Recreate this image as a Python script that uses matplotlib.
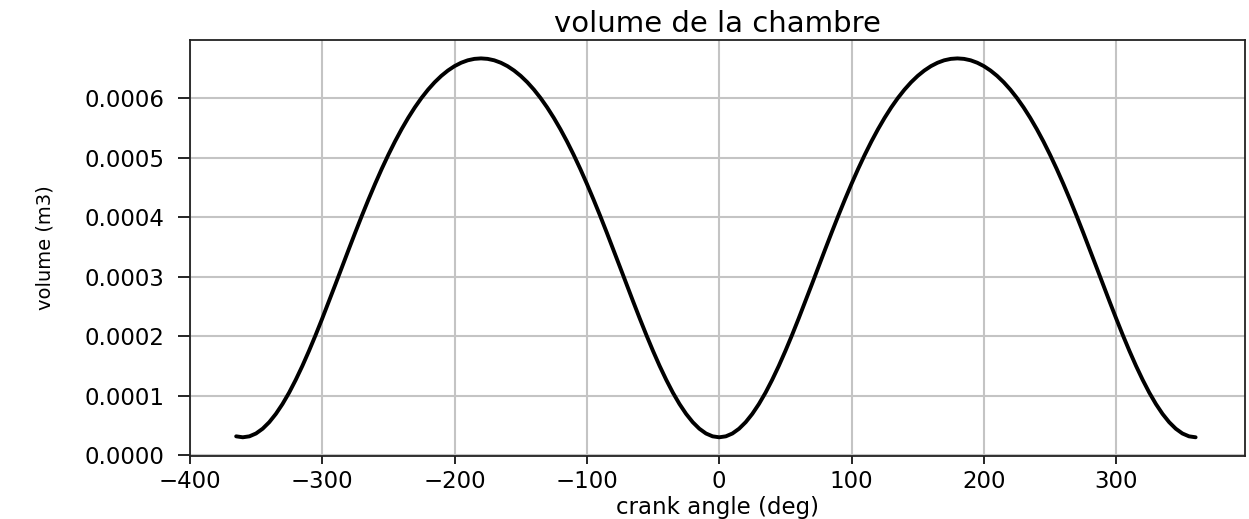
import numpy as np
import matplotlib
matplotlib.use("Agg")
import matplotlib.pyplot as plt

# crank angle (deg) and chamber volume (cm3), one point every 5 deg
crank_angle = np.arange(-365, 361, 5)
volume_cm3 = np.array([
    31.6,
    # -360 .. -180
    30.0, 31.6, 36.4, 44.4, 55.4, 69.3, 85.9, 105.0, 126.5, 149.9,
    175.1, 201.7, 229.5, 258.1, 287.1, 316.4, 345.6, 374.4, 402.6, 429.9,
    456.2, 481.3, 505.0, 527.3, 548.0, 567.1, 584.6, 600.4, 614.5, 626.9,
    637.6, 646.6, 654.0, 659.7, 663.8, 666.2, 667.0,
    # -175 .. 0
    666.2, 663.8, 659.7, 654.0, 646.6, 637.6, 626.9, 614.5, 600.4, 584.6,
    567.1, 548.0, 527.3, 505.0, 481.3, 456.2, 429.9, 402.6, 374.4, 345.6,
    316.4, 287.1, 258.1, 229.5, 201.7, 175.1, 149.9, 126.5, 105.0, 85.9,
    69.3, 55.4, 44.4, 36.4, 31.6, 30.0,
    # 5 .. 180
    31.6, 36.4, 44.4, 55.4, 69.3, 85.9, 105.0, 126.5, 149.9,
    175.1, 201.7, 229.5, 258.1, 287.1, 316.4, 345.6, 374.4, 402.6, 429.9,
    456.2, 481.3, 505.0, 527.3, 548.0, 567.1, 584.6, 600.4, 614.5, 626.9,
    637.6, 646.6, 654.0, 659.7, 663.8, 666.2, 667.0,
    # 185 .. 360
    666.2, 663.8, 659.7, 654.0, 646.6, 637.6, 626.9, 614.5, 600.4, 584.6,
    567.1, 548.0, 527.3, 505.0, 481.3, 456.2, 429.9, 402.6, 374.4, 345.6,
    316.4, 287.1, 258.1, 229.5, 201.7, 175.1, 149.9, 126.5, 105.0, 85.9,
    69.3, 55.4, 44.4, 36.4, 31.6, 30.0,
])
volume = volume_cm3 * 1e-6  # m3

x_ticks = [-400, -300, -200, -100, 0, 100, 200, 300]
y_ticks = [0.0, 0.0001, 0.0002, 0.0003, 0.0004, 0.0005, 0.0006]

fig = plt.figure(figsize=(12.49, 5.19), dpi=100)
ax = fig.add_axes([0.152, 0.121, 0.845, 0.802])

ax.plot(crank_angle, volume, color="black", linewidth=2.8,
        solid_joinstyle="round", solid_capstyle="round")

ax.set_xlim(-400, 397.5)
ax.set_ylim(-0.0000018, 0.000698)
ax.set_xticks(x_ticks)
ax.set_yticks(y_ticks)
ax.set_yticklabels(["%.4f" % v for v in y_ticks])
ax.grid(True, color="#c4c4c4", linewidth=1.5)

ax.tick_params(axis="x", labelsize=16.5, length=6, width=1.2, pad=4)
ax.tick_params(axis="y", labelsize=16.5, length=8.5, width=1.2, pad=10)
for sp in ax.spines.values():
    sp.set_linewidth(1.3)
    sp.set_color("#222222")

ax.set_title("volume de la chambre", fontsize=21, pad=6)
ax.set_xlabel("crank angle (deg)", fontsize=16.5, labelpad=2)
ax.set_ylabel("volume (m3)", fontsize=14)
ax.yaxis.set_label_coords(-0.128, 0.5)

fig.savefig("out.png", dpi=100)
